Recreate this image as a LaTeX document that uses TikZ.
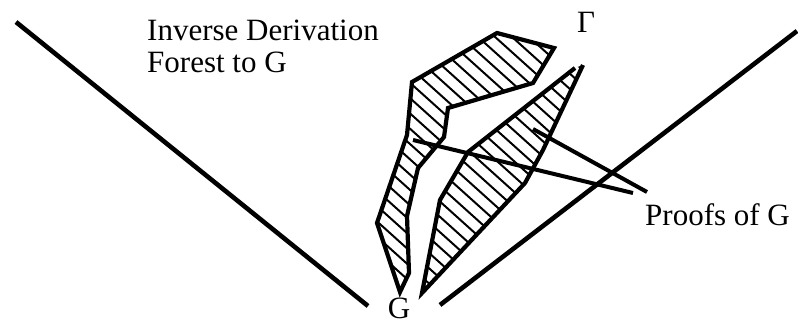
\documentclass[tikz,border=0pt]{standalone}
\usepackage{fontspec}
\setmainfont{Liberation Serif}
\begin{document}
\begin{tikzpicture}[x=1pt,y=-1pt,
  lbl/.style={inner sep=0pt, font=\fontsize{31}{33}\selectfont},
  bigline/.style={line width=4.6pt},
  outline/.style={line width=4.2pt, line join=miter},
  pointer/.style={line width=4pt},
  hatch/.style={line width=2pt}]
\useasboundingbox (0,0) rectangle (798,325);

% labels
\node[lbl, anchor=base west] (inv) at (147,40) {Inverse Derivation};
\node[lbl, anchor=base west] (forest) at (147,72) {Forest to G};
\node[lbl, anchor=base] (gamma) at (586,32) {Γ};
\node[lbl, anchor=base] (g) at (399,318) {G};
\node[lbl, anchor=base west] (proofs) at (645,225) {Proofs of G};

% the two big lines of the cone
\coordinate (l1) at (16,22);
\coordinate (l2) at (368,306);
\coordinate (r1) at (797,31);
\coordinate (r2) at (440,305);
\draw[bigline] (l1) -- (l2);
\draw[bigline] (r1) -- (r2);

% left hatched shape
\begin{scope}
  \clip (412,82) -- (497,33) -- (554,48) -- (533,83) -- (448,108) -- (444,137) -- (418,168) -- (407,216) -- (409,273) -- (400,292) -- (377,223) -- (407,135) -- cycle;
  \foreach \c in {-600,-583,...,700} \draw[hatch] (\c,0) -- ++(500,450);
\end{scope}
\draw[outline] (412,82) -- (497,33) -- (554,48) -- (533,83) -- (448,108) -- (444,137) -- (418,168) -- (407,216) -- (409,273) -- (400,292) -- (377,223) -- (407,135) -- cycle;

% right hatched shape
\begin{scope}
  \clip (583,65) -- (543,150) -- (525,183) -- (422,293) -- (440,200) -- (468,152) -- (575,68) -- cycle;
  \foreach \c in {-600,-583,...,700} \draw[hatch] (\c,0) -- ++(500,450);
\end{scope}
\draw[outline] (583,65) -- (543,150) -- (525,183) -- (422,293) -- (440,200) -- (468,152) -- (575,68);

% pointer lines from the label
\coordinate (pa) at (533,129);
\coordinate (pb) at (413,140);
\coordinate (ea) at (647,192);
\coordinate (eb) at (633,193);
\draw[pointer] (pa) -- (ea);
\draw[pointer] (pb) -- (eb);
\end{tikzpicture}
\end{document}
